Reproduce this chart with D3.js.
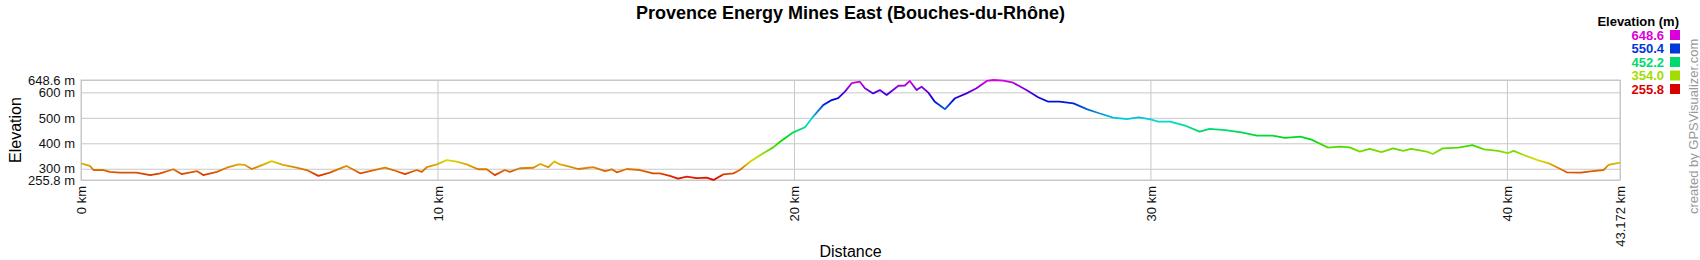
<!DOCTYPE html>
<html>
<head>
<meta charset="utf-8">
<title>Provence Energy Mines East</title>
<script src="https://d3js.org/d3.v7.min.js"></script>
<style>
  body { margin: 0; background: #fff; }
  svg { display: block; font-family: Arial, "Liberation Sans", sans-serif; }
</style>
</head>
<body>
<div id="chart"></div>

<script>
// track profile (km / m)
var distKm = [0, 0.25, 0.35, 0.63, 0.81, 1.09, 1.56, 1.94, 2.22, 2.59, 2.82, 3.25, 3.43, 3.81, 4.09, 4.41, 4.6, 4.79,
  5.02, 5.35, 5.67, 6.05, 6.33, 6.66, 6.98, 7.45, 7.83, 8.1, 8.53, 8.76, 9.09, 9.42, 9.56, 9.7, 9.98,
  10.26, 10.54, 10.82, 11.14, 11.38, 11.61, 11.89, 12.03, 12.31, 12.69, 12.88, 13.11, 13.28, 13.44, 13.62, 13.95,
  14.37, 14.7, 14.89, 15.03, 15.31, 15.68, 16.05, 16.24, 16.52, 16.75, 16.99, 17.27, 17.55, 17.74, 18.02, 18.3,
  18.48, 18.77, 19.14, 19.42, 19.61, 19.98, 20.31, 20.54, 20.82, 21.06, 21.24, 21.43, 21.62, 21.85, 21.99, 22.22,
  22.41, 22.6, 22.93, 23.11, 23.25, 23.44, 23.58, 23.77, 23.95, 24.24, 24.52, 24.84, 25.12, 25.41, 25.6, 25.87,
  26.15, 26.52, 26.85, 27.12, 27.45, 27.84, 28.23, 28.56, 28.95, 29.34, 29.67, 30, 30.22, 30.55, 31, 31.38,
  31.66, 32.1, 32.55, 32.99, 33.43, 33.77, 34.21, 34.54, 34.98, 35.32, 35.59, 35.87, 36.15, 36.48, 36.81, 37.09,
  37.31, 37.75, 37.92, 38.2, 38.64, 39.03, 39.36, 39.75, 40.02, 40.19, 40.47, 40.86, 41.18, 41.46, 41.68, 42.07,
  42.4, 42.71, 42.85, 43.172];

var elevM = [321, 311, 295, 295, 288, 285, 285, 275, 282, 298, 279, 291, 275, 288, 304, 317, 315, 299,
  311, 330, 315, 304, 295, 272, 285, 311, 282, 291, 304, 295, 279, 295, 288, 306, 317,
  334, 328, 317, 298, 298, 275, 295, 288, 302, 304, 319, 306, 329, 317, 311, 299,
  306, 291, 298, 286, 299, 295, 282, 282, 272, 261, 269, 263, 265, 256, 278, 282,
  295, 328, 361, 384, 406, 443, 463, 505, 550, 570, 577, 603, 636, 642, 616, 596,
  609, 590, 626, 627, 645, 609, 622, 599, 563, 534, 577, 596, 616, 645, 648.6, 646,
  638, 609, 581, 564, 564, 557, 533, 518, 501, 495, 502, 494, 485, 485, 468, 446,
  457, 452, 443, 430, 430, 421, 426, 413, 383, 387, 384, 367, 378, 365, 380, 370,
  378, 367, 358, 380, 383, 393, 376, 370, 361, 370, 354, 334, 321, 302, 286, 285,
  291, 295, 315, 324];

var yTicks = [255.8, 300, 400, 500, 600, 648.6];
var xTicks = [0, 10, 20, 30, 40, 43.172];
var legendValues = [648.6, 550.4, 452.2, 354.0, 255.8];

var minElev = 255.8, maxElev = 648.6, totalKm = 43.172;

var margin = {top: 80, right: 80, bottom: 80, left: 81},
  width = 1700 - margin.left - margin.right,
  height = 260 - margin.top - margin.bottom;

var x = d3.scaleLinear().domain([0, totalKm]).range([0, width]);
var y = d3.scaleLinear().domain([minElev, maxElev]).range([height, 0]);

// red at the bottom -> magenta at the top
function elevColor(e) {
  var h = 300 * (e - minElev) / (maxElev - minElev);
  return d3.hsl(h, 1, 0.43).formatHex();
}

var svg = d3.select("#chart").append("svg")
  .attr("width", 1700)
  .attr("height", 260);

var g = svg.append("g")
  .attr("transform", "translate(" + margin.left + "," + margin.top + ")");

// vertical gradient so the stroke colour follows elevation
var grad = svg.append("defs").append("linearGradient")
  .attr("id", "elevGrad")
  .attr("gradientUnits", "userSpaceOnUse")
  .attr("x1", 0).attr("x2", 0)
  .attr("y1", y(minElev)).attr("y2", y(maxElev));
d3.range(0, 1.0001, 0.05).forEach(function(t) {
  grad.append("stop")
    .attr("offset", t)
    .attr("stop-color", elevColor(minElev + t * (maxElev - minElev)));
});

// Y axis + horizontal grid
var yAxis = g.append("g")
  .call(d3.axisLeft(y).tickValues(yTicks).tickSizeInner(-width).tickSizeOuter(0).tickPadding(6)
    .tickFormat(function(d) { return d + " m"; }));
yAxis.select(".domain").remove();
yAxis.selectAll("line").attr("stroke", "#c8c8c8");
yAxis.selectAll("text").attr("font-size", 13).attr("font-family", "Arial, 'Liberation Sans', sans-serif").attr("fill", "#111");

// X axis + vertical grid
var xAxis = g.append("g")
  .attr("transform", "translate(0," + height + ")")
  .call(d3.axisBottom(x).tickValues(xTicks).tickSizeInner(-height).tickSizeOuter(0)
    .tickFormat(function(d) { return d + " km"; }));
xAxis.select(".domain").remove();
xAxis.selectAll("line").attr("stroke", "#c8c8c8");
xAxis.selectAll("text")
  .attr("font-size", 13)
  .attr("font-family", "Arial, 'Liberation Sans', sans-serif")
  .attr("fill", "#111")
  .attr("transform", "rotate(-90)")
  .attr("text-anchor", "end")
  .attr("x", -6)
  .attr("y", 0)
  .attr("dy", "0.35em");

// frame
g.append("rect")
  .attr("width", width)
  .attr("height", height)
  .attr("fill", "none")
  .attr("stroke", "#c8c8c8");

var profile = distKm.map(function(d, i) { return {d: d, e: elevM[i]}; });

var line = d3.line()
  .x(function(p) { return x(p.d); })
  .y(function(p) { return y(p.e); });

g.append("path")
  .datum(profile)
  .attr("d", line)
  .attr("fill", "none")
  .attr("stroke", "url(#elevGrad)")
  .attr("stroke-width", 1.8)
  .attr("stroke-linejoin", "round");

// titles
svg.append("text")
  .attr("x", margin.left + width / 2)
  .attr("y", 19)
  .attr("text-anchor", "middle")
  .attr("font-size", 18)
  .attr("font-weight", "bold")
  .text("Provence Energy Mines East (Bouches-du-Rhône)");

svg.append("text")
  .attr("transform", "translate(15," + (margin.top + height / 2) + ") rotate(-90)")
  .attr("text-anchor", "middle")
  .attr("dy", "0.35em")
  .attr("font-size", 16)
  .text("Elevation");

svg.append("text")
  .attr("x", margin.left + width / 2)
  .attr("y", 257)
  .attr("text-anchor", "middle")
  .attr("font-size", 16)
  .text("Distance");

// legend
svg.append("text")
  .attr("x", 1679)
  .attr("y", 26)
  .attr("text-anchor", "end")
  .attr("font-size", 13)
  .attr("font-weight", "bold")
  .text("Elevation (m)");

var leg = svg.selectAll(".leg")
  .data(legendValues)
  .enter().append("g")
  .attr("class", "leg")
  .attr("transform", function(d, i) { return "translate(0," + (35 + i * 13.5) + ")"; });

leg.append("text")
  .attr("x", 1664)
  .attr("dy", "0.35em")
  .attr("text-anchor", "end")
  .attr("font-size", 13)
  .attr("font-weight", "bold")
  .attr("fill", function(d) { return elevColor(d); })
  .text(function(d) { return d.toFixed(1); });

leg.append("rect")
  .attr("x", 1670)
  .attr("y", -5)
  .attr("width", 10)
  .attr("height", 10)
  .attr("fill", function(d) { return elevColor(d); });

svg.append("text")
  .attr("transform", "translate(1693,214) rotate(-90)")
  .attr("dy", "0.35em")
  .attr("font-size", 13)
  .attr("fill", "#999")
  .text("created by GPSVisualizer.com");
</script>
</body>
</html>
